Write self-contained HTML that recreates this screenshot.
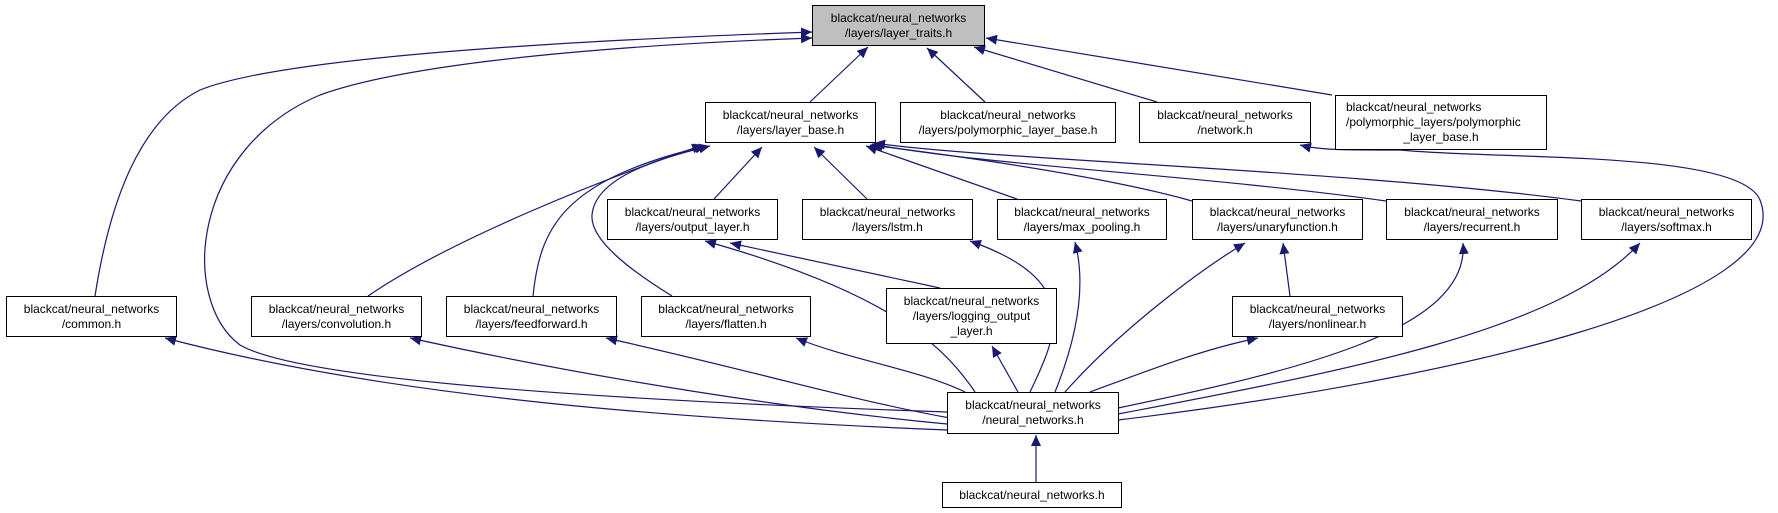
<!DOCTYPE html>
<html><head><meta charset="utf-8"><style>
body{margin:0;background:#fff;width:1778px;height:513px;overflow:hidden;position:relative;font-family:"Liberation Sans",Arial,sans-serif}
.n{position:absolute;box-sizing:border-box;border:1px solid #000;background:#fff;font-size:12px;line-height:15px;text-align:center;display:flex;flex-direction:column;justify-content:center;color:#000;white-space:nowrap}
svg{position:absolute;left:0;top:0}
</style></head><body>
<svg width="1778" height="513" viewBox="0 0 1778 513">
<defs><marker id="a" markerUnits="userSpaceOnUse" markerWidth="12" markerHeight="10" refX="11" refY="5" orient="auto"><path d="M0,0 L11,5 L0,10 z" fill="#191970"/></marker></defs>
<g fill="none" stroke="#191970" stroke-width="1.2" marker-end="url(#a)">
<path d="M95,296 C110,200 140,120 200,90 C300,50 700,36 812,32"/>
<path d="M947,412 C600,400 300,380 240,345 C180,300 190,150 320,95 C430,55 700,42 812,38"/>
<path d="M810,102 L868,47"/>
<path d="M985,102 L927,48"/>
<path d="M1157,102 L974,47"/>
<path d="M1332,95 L986,38"/>
<path d="M714,199 L762,147"/>
<path d="M867,199 L814,147"/>
<path d="M368,296 C450,240 600,180 703,145"/>
<path d="M533,296 C540,230 560,180 706,146"/>
<path d="M672,296 C630,270 590,240 592,215 C595,180 650,160 710,146"/>
<path d="M1017,199 L866,146"/>
<path d="M1192,201 C1100,175 950,155 870,145"/>
<path d="M1386,201 C1200,175 980,165 872,144"/>
<path d="M1581,201 C1350,170 990,160 874,143"/>
<path d="M947,430 C700,420 400,400 165,338"/>
<path d="M947,424 C800,410 600,380 410,338"/>
<path d="M950,418 C850,400 750,370 606,338"/>
<path d="M965,392 C920,370 850,360 796,338"/>
<path d="M975,392 C940,340 880,290 705,241"/>
<path d="M1018,392 L992,346"/>
<path d="M1030,392 C1060,330 1080,280 970,241"/>
<path d="M1055,392 C1080,330 1085,280 1075,242"/>
<path d="M1065,392 C1120,330 1200,270 1245,243"/>
<path d="M1090,392 C1150,370 1200,350 1258,338"/>
<path d="M1118,408 C1300,370 1470,330 1463,243"/>
<path d="M1118,414 C1350,370 1560,330 1640,243"/>
<path d="M1118,420 C1450,380 1800,300 1760,200 C1740,150 1500,160 1400,150 C1340,150 1320,150 1300,145"/>
<path d="M940,288 L730,243"/>
<path d="M1290,296 L1283,243"/>
<path d="M1036,482 L1036,435"/>
</g></svg>
<div class="n" style="left:812px;top:5px;width:173px;height:41px;background:#bfbfbf"><div>blackcat/neural_networks</div><div>/layers/layer_traits.h</div></div>
<div class="n" style="left:705px;top:102px;width:171px;height:41px"><div>blackcat/neural_networks</div><div>/layers/layer_base.h</div></div>
<div class="n" style="left:900px;top:102px;width:216px;height:41px"><div>blackcat/neural_networks</div><div>/layers/polymorphic_layer_base.h</div></div>
<div class="n" style="left:1139px;top:102px;width:172px;height:41px"><div>blackcat/neural_networks</div><div>/network.h</div></div>
<div class="n" style="left:1335px;top:95px;width:212px;height:55px"><div style="text-align:left;padding-left:10px">blackcat/neural_networks</div><div style="text-align:left;padding-left:10px">/polymorphic_layers/polymorphic</div><div>_layer_base.h</div></div>
<div class="n" style="left:607px;top:199px;width:171px;height:41px"><div>blackcat/neural_networks</div><div>/layers/output_layer.h</div></div>
<div class="n" style="left:802px;top:199px;width:171px;height:41px"><div>blackcat/neural_networks</div><div>/layers/lstm.h</div></div>
<div class="n" style="left:997px;top:199px;width:170px;height:41px"><div>blackcat/neural_networks</div><div>/layers/max_pooling.h</div></div>
<div class="n" style="left:1192px;top:199px;width:171px;height:41px"><div>blackcat/neural_networks</div><div>/layers/unaryfunction.h</div></div>
<div class="n" style="left:1386px;top:199px;width:172px;height:41px"><div>blackcat/neural_networks</div><div>/layers/recurrent.h</div></div>
<div class="n" style="left:1581px;top:199px;width:171px;height:41px"><div>blackcat/neural_networks</div><div>/layers/softmax.h</div></div>
<div class="n" style="left:6px;top:296px;width:171px;height:41px"><div>blackcat/neural_networks</div><div>/common.h</div></div>
<div class="n" style="left:251px;top:296px;width:171px;height:41px"><div>blackcat/neural_networks</div><div>/layers/convolution.h</div></div>
<div class="n" style="left:446px;top:296px;width:171px;height:41px"><div>blackcat/neural_networks</div><div>/layers/feedforward.h</div></div>
<div class="n" style="left:641px;top:296px;width:170px;height:41px"><div>blackcat/neural_networks</div><div>/layers/flatten.h</div></div>
<div class="n" style="left:886px;top:288px;width:171px;height:56px"><div>blackcat/neural_networks</div><div>/layers/logging_output</div><div>_layer.h</div></div>
<div class="n" style="left:1232px;top:296px;width:171px;height:41px"><div>blackcat/neural_networks</div><div>/layers/nonlinear.h</div></div>
<div class="n" style="left:947px;top:392px;width:172px;height:42px"><div>blackcat/neural_networks</div><div>/neural_networks.h</div></div>
<div class="n" style="left:942px;top:482px;width:180px;height:26px"><div>blackcat/neural_networks.h</div></div>
</body></html>
